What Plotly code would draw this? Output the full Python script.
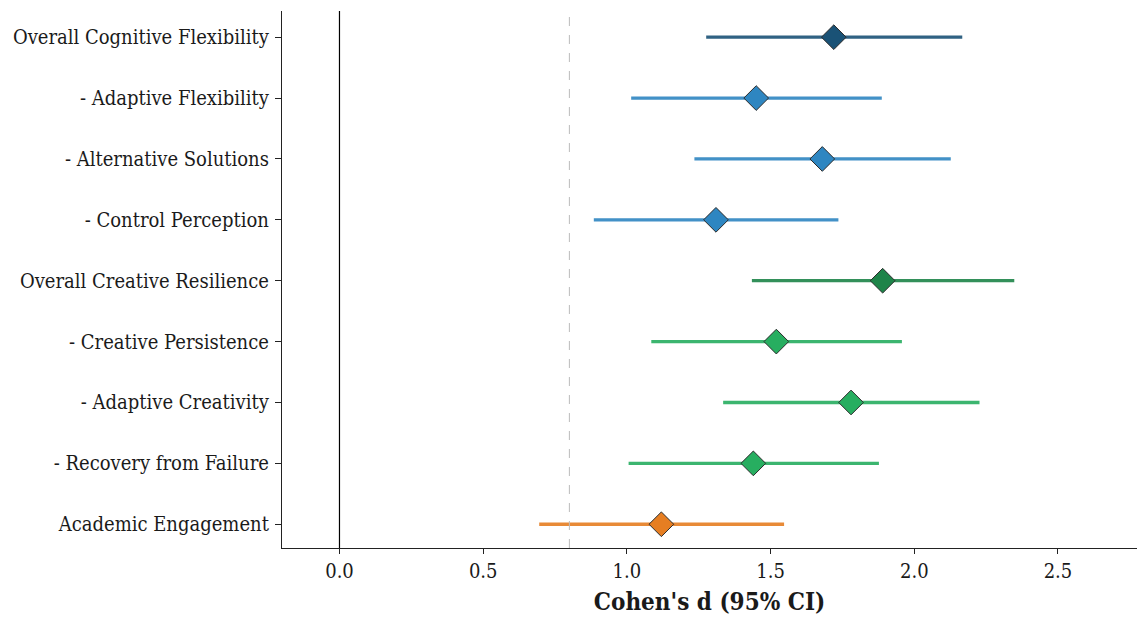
import plotly.graph_objects as go

labels = [
    "Overall Cognitive Flexibility",
    "- Adaptive Flexibility",
    "- Alternative Solutions",
    "- Control Perception",
    "Overall Creative Resilience",
    "- Creative Persistence",
    "- Adaptive Creativity",
    "- Recovery from Failure",
    "Academic Engagement",
]
d_values = [1.72, 1.45, 1.68, 1.31, 1.89, 1.52, 1.78, 1.44, 1.12]
ci_lower = [1.276, 1.015, 1.235, 0.885, 1.435, 1.085, 1.335, 1.006, 0.695]
ci_upper = [2.167, 1.887, 2.127, 1.736, 2.348, 1.957, 2.227, 1.877, 1.547]
colors = ["#1a5276", "#2e86c1", "#2e86c1", "#2e86c1",
          "#1e8449", "#27ae60", "#27ae60", "#27ae60", "#e67e22"]
threshold = 0.8
x_ticks = [0.0, 0.5, 1.0, 1.5, 2.0, 2.5]

FONT = "DejaVu Serif Condensed, DejaVu Serif"
fig = go.Figure()

for i, lab in enumerate(labels):
    fig.add_trace(go.Scatter(
        x=[ci_lower[i], ci_upper[i]], y=[i, i], mode="lines",
        line=dict(color=colors[i], width=3.3), opacity=0.9,
        hoverinfo="skip", showlegend=False))

for i, lab in enumerate(labels):
    fig.add_trace(go.Scatter(
        x=[d_values[i]], y=[i], mode="markers",
        marker=dict(symbol="diamond", size=19, color=colors[i],
                    line=dict(color="#2b2b2b", width=1)),
        showlegend=False))

fig.add_vline(x=0, line=dict(color="black", width=1.2))
fig.add_vline(x=threshold, line=dict(color="#bbbbbb", width=1, dash="dash"))

fig.update_layout(
    width=1137, height=618,
    margin=dict(l=282, r=0, t=11, b=70),
    paper_bgcolor="white", plot_bgcolor="white",
    font=dict(family=FONT, color="#1a1a1a", size=20),
)
fig.update_xaxes(
    range=[-0.2, 2.775], tickvals=x_ticks,
    ticktext=[f"{v:.1f}" for v in x_ticks],
    showgrid=False, zeroline=False,
    showline=True, linecolor="#222222", linewidth=1.2,
    ticks="outside", ticklen=5, tickcolor="#222222",
    tickfont=dict(family=FONT, size=20),
    title=dict(text="<b>Cohen's d (95% CI)</b>", font=dict(family=FONT, size=24), standoff=11),
)
fig.update_yaxes(
    range=[8.39, -0.43], tickvals=list(range(len(labels))), ticktext=labels,
    showgrid=False, zeroline=False,
    showline=True, linecolor="#222222", linewidth=1.2,
    ticks="outside", ticklen=6, tickcolor="#222222",
    ticklabelstandoff=2,
    tickfont=dict(family=FONT, size=20),
)

fig.write_html("out.html", config={"displayModeBar": False},
               post_script="document.body.style.margin='0';")
